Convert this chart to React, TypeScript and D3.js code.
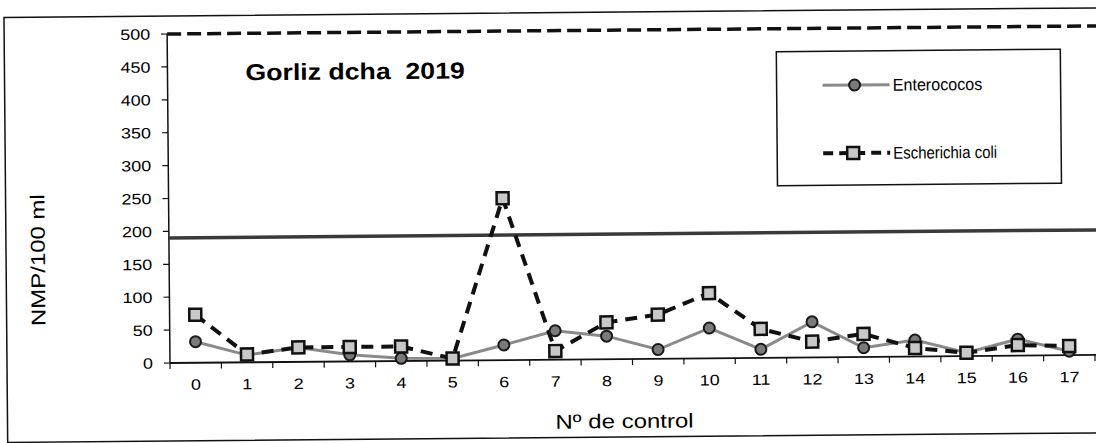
import React from "react";
import * as d3 from "d3";

const categories = ["0","1","2","3","4","5","6","7","8","9","10","11","12","13","14","15","16","17"];
const enterococos = [32, 11, 22, 10, 4, 3, 23, 44, 35, 14, 46, 13, 54, 14, 25, 5, 25, 6];
const ecoli = [73, 12, 22, 22, 22, 3, 246, 13, 56, 67, 99, 44, 24, 35, 13, 5, 16, 14];
const yTicks = [0, 50, 100, 150, 200, 250, 300, 350, 400, 450, 500];
const limitSolid = 190;
const limitDashed = 500;
const title = "Gorliz dcha  2019";
const yTitle = "NMP/100 ml";
const xTitle = "Nº de control";
const seriesNames = ["Enterococos", "Escherichia coli"];

const W = 1096;
const H = 443;
const FONT = "'Liberation Sans', Arial, sans-serif";

function T(props: {
  x: number; y: number; size: number; sx?: number; anchor?: string; weight?: string | number;
  rotate?: number; baseline?: string; children: React.ReactNode;
}) {
  const { x, y, size, sx = 1.2, anchor = "start", weight = "normal", rotate = 0, baseline, children } = props;
  return (
    <text
      transform={`translate(${x},${y}) rotate(${rotate}) scale(${sx},1)`}
      fontSize={size}
      fontFamily={FONT}
      fontWeight={weight}
      textAnchor={anchor}
      dominantBaseline={baseline}
      fill="#000"
      style={{ whiteSpace: "pre" }}
      xmlSpace="preserve"
    >
      {children}
    </text>
  );
}

export default function App() {
  const x = d3.scaleBand<string>().domain(categories).range([170, 1095]).padding(0);
  const y = d3.scaleLinear().domain([0, 500]).range([363, 34]);
  const cx = (i: number) => (x(categories[i]) as number) + x.bandwidth() / 2;

  const line = d3.line<number>().x((_, i) => cx(i)).y((d) => y(d));

  const entPath = line(enterococos) || "";
  const ecoPath = line(ecoli) || "";

  const boundaries = categories.map((c) => x(c) as number).concat([(x(categories[17]) as number) + x.bandwidth()]);

  const sq = 12;

  return (
    <svg width={W} height={H} style={{ position: "absolute", left: 0, top: 0, background: "#fff" }}>
      <g transform="rotate(-0.5,170,363)">
        {/* outer frame */}
        <rect x={7} y={16} width={1120} height={425} fill="none" stroke="#111" strokeWidth={1.5} />

        {/* y axis */}
        <line x1={170} x2={170} y1={y(500)} y2={y(0)} stroke="#111" strokeWidth={1.5} />
        {yTicks.map((t) => (
          <g key={t}>
            <line x1={164} x2={170} y1={y(t)} y2={y(t)} stroke="#111" strokeWidth={1.2} />
            <T x={153} y={y(t) + 5.5} size={15} anchor="end">{t}</T>
          </g>
        ))}

        {/* x axis */}
        <line x1={170} x2={1100} y1={y(0)} y2={y(0)} stroke="#111" strokeWidth={1.8} />
        {boundaries.map((b, i) => (
          <line key={i} x1={b} x2={b} y1={y(0)} y2={y(0) + 6} stroke="#111" strokeWidth={1.2} />
        ))}
        {categories.map((c, i) => (
          <T key={c} x={cx(i)} y={390} size={15} anchor="middle">{c}</T>
        ))}

        {/* reference lines */}
        <line x1={170} x2={1100} y1={y(limitSolid)} y2={y(limitSolid)} stroke="#3a3a3a" strokeWidth={3.5} />
        <line x1={170} x2={1100} y1={y(limitDashed)} y2={y(limitDashed)} stroke="#111" strokeWidth={3.5} strokeDasharray="14,6" />

        {/* titles */}
        <T x={248} y={81} size={23} weight="bold" sx={1.16}>{title}</T>
        <T x={39} y={259} size={20} anchor="middle" rotate={-90} sx={1.2} baseline="central">{yTitle}</T>
        <T x={624} y={432} size={20} anchor="middle">{xTitle}</T>

        {/* series: Enterococos */}
        <path d={entPath} fill="none" stroke="#8a8a8a" strokeWidth={3} />
        {/* series: E. coli */}
        <path d={ecoPath} fill="none" stroke="#111" strokeWidth={4} strokeDasharray="12,8" />
        {enterococos.map((v, i) => (
          <circle key={"e" + i} cx={cx(i)} cy={y(v)} r={5.5} fill="#7a7a7a" stroke="#1a1a1a" strokeWidth={2} />
        ))}
        {ecoli.map((v, i) => (
          <rect key={"c" + i} x={cx(i) - sq / 2} y={y(v) - sq / 2} width={sq} height={sq} fill="#c8c8c8" stroke="#111" strokeWidth={2.5} />
        ))}

        {/* legend */}
        <rect x={779} y={57} width={284} height={134} fill="#fff" stroke="#111" strokeWidth={1.5} />
        <line x1={825} x2={892} y1={91} y2={91} stroke="#8a8a8a" strokeWidth={3} />
        <circle cx={857} cy={91} r={5.5} fill="#7a7a7a" stroke="#1a1a1a" strokeWidth={2} />
        <T x={895} y={97} size={17} sx={0.95}>{seriesNames[0]}</T>
        <line x1={825} x2={892} y1={159} y2={159} stroke="#111" strokeWidth={4} strokeDasharray="10,6" />
        <rect x={855 - sq / 2} y={159 - sq / 2} width={sq} height={sq} fill="#c8c8c8" stroke="#111" strokeWidth={2.5} />
        <T x={895} y={165} size={17} sx={0.88}>{seriesNames[1]}</T>
      </g>
    </svg>
  );
}
